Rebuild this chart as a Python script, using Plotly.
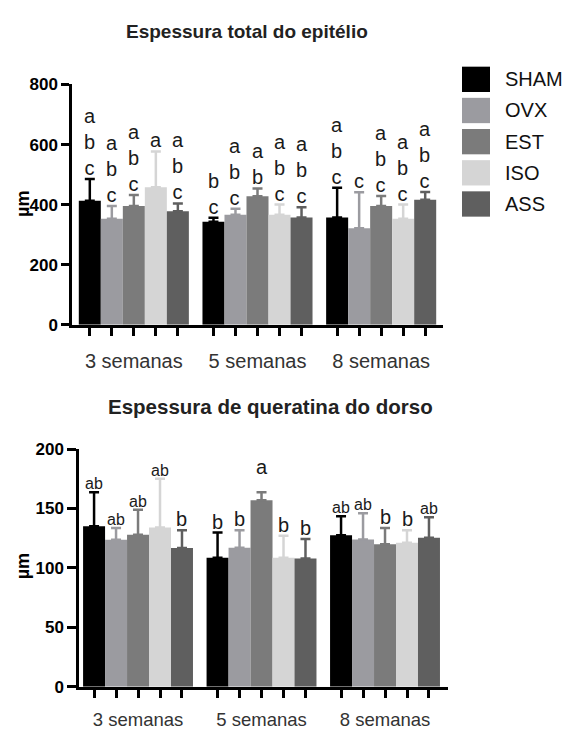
import plotly.graph_objects as go

W, H = 570, 736
OFF = 8  # page body margin
FW, FH = W - OFF, H - OFF

groups = ["3 semanas", "5 semanas", "8 semanas"]
series = ["SHAM", "OVX", "EST", "ISO", "ASS"]
colors = ["#000000", "#9b9ba0", "#7b7b7b", "#d5d5d5", "#5f5f5f"]

# Espessura total do epitélio (µm): mean and upper SD
top_mean = {
    "SHAM": [413, 343, 357],
    "OVX": [353, 366, 321],
    "EST": [395, 428, 395],
    "ISO": [458, 366, 353],
    "ASS": [378, 357, 416],
}
top_err = {
    "SHAM": [72, 13, 99],
    "OVX": [42, 20, 120],
    "EST": [37, 26, 34],
    "ISO": [119, 34, 47],
    "ASS": [26, 34, 26],
}
top_letters = {
    "SHAM": ["abc", "bc", "abc"],
    "OVX": ["abc", "abc", "c"],
    "EST": ["abc", "ab", "abc"],
    "ISO": ["a", "abc", "abc"],
    "ASS": ["abc", "abc", "abc"],
}

# Espessura de queratina do dorso (µm)
bot_mean = {
    "SHAM": [135, 108.5, 127.6],
    "OVX": [123.8, 117, 124],
    "EST": [128, 157, 120],
    "ISO": [134, 108.5, 121.3],
    "ASS": [116.7, 108, 125.4],
}
bot_err = {
    "SHAM": [28.7, 21.3, 15.8],
    "OVX": [9.8, 14.7, 22],
    "EST": [21, 6.7, 13.6],
    "ISO": [41, 18.5, 10.4],
    "ASS": [15, 16.3, 17.2],
}
bot_letters = {
    "SHAM": ["ab", "b", "ab"],
    "OVX": ["ab", "b", "ab"],
    "EST": ["ab", "a", "b"],
    "ISO": ["ab", "b", "b"],
    "ASS": ["b", "b", "ab"],
}

top_title = "Espessura total do epitélio"
bot_title = "Espessura de queratina do dorso"
y_top_ticks = [0, 200, 400, 600, 800]
y_bot_ticks = [0, 50, 100, 150, 200]

FONT = "Liberation Sans, Arial, Helvetica, sans-serif"
BARGAP = 0.11
nS = len(series)
bw = (1 - BARGAP) / nS
gx = list(range(len(groups)))

fig = go.Figure()


def px_x(p):
    return (p - OFF) / FW


def px_y(p):
    return 1 - (p - OFF) / FH


for means, errs, xa, ya in [
    (top_mean, top_err, "x", "y"),
    (bot_mean, bot_err, "x2", "y2"),
]:
    for i, s in enumerate(series):
        fig.add_trace(go.Bar(
            x=gx, y=means[s], name=s, xaxis=xa, yaxis=ya,
            marker=dict(color=colors[i], line=dict(width=0)),
            error_y=dict(type="data", symmetric=False, array=errs[s],
                         arrayminus=[0] * len(gx), color=colors[i],
                         thickness=2.5, width=5),
            showlegend=False,
        ))

# tick positions at every bar
tickvals = []
ticktext = []
for g in gx:
    for i in range(nS):
        tickvals.append(g + (i - (nS - 1) / 2) * bw)
        ticktext.append(groups[g] if i == (nS - 1) // 2 else "")

axis_common = dict(showgrid=False, zeroline=False, showline=True,
                   linecolor="black", linewidth=2.5, ticks="outside",
                   tickcolor="black", tickwidth=2.5, fixedrange=True)

fig.update_layout(
    width=FW, height=FH,
    margin=dict(l=0, r=0, t=0, b=0),
    paper_bgcolor="white", plot_bgcolor="white",
    barmode="group", bargap=BARGAP, bargroupgap=0,
    xaxis=dict(domain=[px_x(72), px_x(443)], range=[-0.5, 2.5],
               tickmode="array", tickvals=tickvals, ticktext=ticktext,
               ticklen=8, anchor="y",
               tickfont=dict(family=FONT, size=20, color="#333333"),
               ticklabelstandoff=8, **axis_common),
    yaxis=dict(domain=[px_y(324), px_y(77.3)], range=[0, 800],
               tickmode="array", tickvals=y_top_ticks, ticklen=8, anchor="x",
               tickfont=dict(family=FONT, size=17, color="black", weight="bold"),
               **axis_common),
    xaxis2=dict(domain=[px_x(79), px_x(448)], range=[-0.478, 2.51],
                tickmode="array", tickvals=tickvals, ticktext=ticktext,
                ticklen=8, anchor="y2",
                tickfont=dict(family=FONT, size=18.5, color="#333333"),
                ticklabelstandoff=6, **axis_common),
    yaxis2=dict(domain=[px_y(695.7), px_y(451.7)], range=[0, 200],
                tickmode="array", tickvals=y_bot_ticks, ticklen=9, anchor="x2",
                tickfont=dict(family=FONT, size=17, color="black", weight="bold"),
                **axis_common),
)

ann = []
# significance letters
for i, s in enumerate(series):
    for g in gx:
        xpos = g + (i - (nS - 1) / 2) * bw
        cap = top_mean[s][g] + top_err[s][g]
        ann.append(dict(x=xpos, y=cap, xref="x", yref="y", xanchor="center",
                        yanchor="bottom", showarrow=False,
                        text="<br>".join(list(top_letters[s][g])),
                        font=dict(family=FONT, size=20, color="#1a1a1a"),
                        yshift=-2))
        cap2 = bot_mean[s][g] + bot_err[s][g]
        lab = bot_letters[s][g]
        size = 16 if len(lab) > 1 else 20
        shift = 12 if lab == "a" else -2
        ann.append(dict(x=xpos, y=cap2, xref="x2", yref="y2", xanchor="center",
                        yanchor="bottom", showarrow=False, text=lab,
                        font=dict(family=FONT, size=size, color="#1a1a1a"),
                        yshift=shift))

# titles
ann.append(dict(x=px_x(247), y=px_y(23), xref="paper", yref="paper",
                xanchor="center", yanchor="middle", showarrow=False,
                text=top_title,
                font=dict(family=FONT, size=19, color="#222222", weight="bold")))
ann.append(dict(x=px_x(270), y=px_y(408), xref="paper", yref="paper",
                xanchor="center", yanchor="middle", showarrow=False,
                text=bot_title,
                font=dict(family=FONT, size=20.5, color="#222222", weight="bold")))
# y titles
for yc in (200, 572):
    ann.append(dict(x=px_x(23), y=px_y(yc), xref="paper", yref="paper",
                    xanchor="center", yanchor="middle", showarrow=False,
                    text="µm", textangle=-90,
                    font=dict(family=FONT, size=18, color="black", weight="bold")))

# legend
shapes = []
for i, s in enumerate(series):
    cy = 72 + i * 32
    shapes.append(dict(type="rect", xref="paper", yref="paper",
                       x0=px_x(462), x1=px_x(490), y0=px_y(cy + 13), y1=px_y(cy - 13),
                       fillcolor=colors[i], line=dict(width=0)))
    ann.append(dict(x=px_x(503), y=px_y(cy), xref="paper", yref="paper",
                    xanchor="left", yanchor="middle", showarrow=False, text=s,
                    font=dict(family=FONT, size=20, color="#111111")))

fig.update_layout(annotations=ann, shapes=shapes)
fig.write_html("out.html")
